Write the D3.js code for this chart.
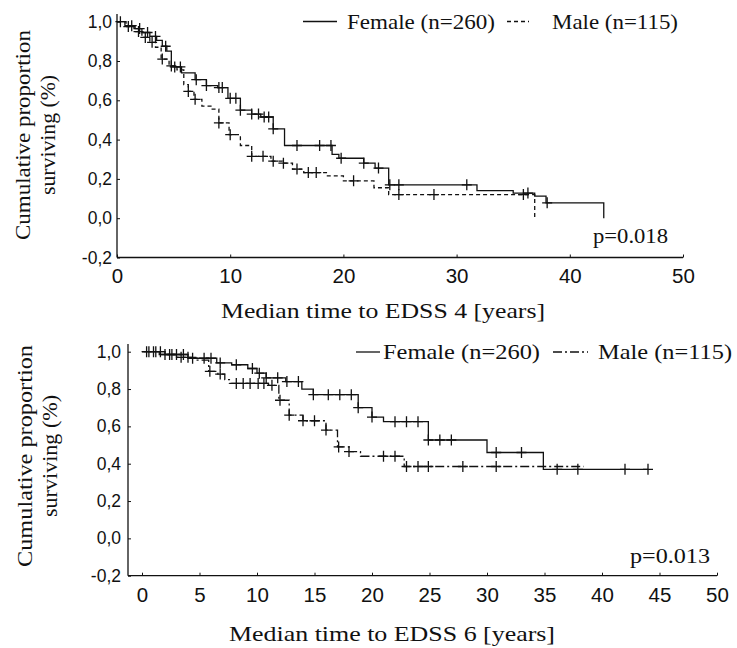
<!DOCTYPE html>
<html>
<head>
<meta charset="utf-8">
<script src="https://cdn.jsdelivr.net/npm/d3@7"></script>
<style>
  body { margin: 0; background: #fff; }
  svg { display: block; }
</style>
</head>
<body>
<div id="chart"></div>
<script>
// Kaplan-Meier steps: [time, survival] — each point is where the curve drops to that value
const topFemale = [[0,1],[0.7,0.98],[1.5,0.965],[2.2,0.945],[2.9,0.925],[3.5,0.905],[4.0,0.875],[4.4,0.85],[4.8,0.77],[5.7,0.74],[6.9,0.705],[7.9,0.675],[8.9,0.665],[9.8,0.61],[10.9,0.55],[11.9,0.53],[12.7,0.515],[13.8,0.455],[14.8,0.37],[19.0,0.325],[19.6,0.305],[21.8,0.28],[22.8,0.255],[24.0,0.17],[31.8,0.14],[35.0,0.128],[36.9,0.112],[37.9,0.078],[43.0,0]];
const topMale = [[0,1],[0.8,0.975],[1.6,0.95],[2.2,0.92],[2.9,0.895],[3.4,0.87],[3.9,0.81],[4.6,0.775],[5.3,0.755],[5.9,0.68],[6.3,0.645],[6.8,0.605],[7.5,0.57],[8.3,0.555],[9.0,0.485],[9.9,0.425],[10.9,0.37],[11.9,0.315],[13.6,0.29],[14.6,0.28],[15.5,0.25],[16.5,0.232],[18.5,0.215],[20.0,0.19],[22.7,0.155],[24.0,0.12],[36.9,0]];
const topFemaleCensor = [0.3,1.3,2.0,2.7,3.4,4.3,5.1,5.6,7.0,7.9,9.0,9.3,10.0,10.5,10.9,11.9,12.5,13.0,13.4,13.8,15.9,17.9,18.9,19.8,21.8,23.1,24.1,24.9,30.9,36.3,38.0];
const topMaleCensor = [1.0,1.9,2.5,3.1,4.0,4.8,6.3,6.9,9.0,10.0,11.9,12.9,13.8,14.7,15.9,16.9,17.6,20.9,24.9,28.0,35.9];

const botFemale = [[0,1],[2.0,0.985],[4.0,0.965],[6.5,0.94],[7.8,0.93],[9.2,0.91],[10.0,0.885],[10.8,0.86],[12.5,0.84],[13.9,0.8],[14.9,0.77],[18.8,0.7],[20.0,0.65],[21.0,0.625],[24.9,0.527],[30.0,0.46],[34.9,0.37],[44.0,0.37]];
const botMale = [[0,1],[1.5,0.985],[3.0,0.97],[4.8,0.955],[5.8,0.895],[6.6,0.88],[7.2,0.85],[7.6,0.83],[11.0,0.82],[11.9,0.74],[12.8,0.66],[14.0,0.63],[16.0,0.58],[17.0,0.49],[18.0,0.465],[19.0,0.44],[22.8,0.385],[38.4,0.385]];
const botFemaleCensor = [0.4,1.0,1.6,2.4,3.0,3.6,4.4,5.4,6.0,6.8,8.2,9.6,10.2,10.8,11.8,12.6,13.6,14.9,16.2,17.2,18.2,18.8,20.0,22.0,23.0,24.0,24.9,25.9,26.9,30.8,33.0,36.1,37.9,42.0,44.0];
const botMaleCensor = [0.6,1.2,2.0,2.6,3.4,4.0,5.9,6.8,8.2,8.8,9.4,10.1,10.6,11.3,12.0,12.8,14.0,15.0,16.0,17.1,18.0,21.0,22.0,23.0,24.0,24.9,27.9,30.8];

const yTicks = [-0.2, 0, 0.2, 0.4, 0.6, 0.8, 1.0];
const topXTicks = [0, 10, 20, 30, 40, 50];
const botXTicks = [0, 5, 10, 15, 20, 25, 30, 35, 40, 45, 50];
const legendLabels = ["Female (n=260)", "Male (n=115)"];

const svg = d3.select("#chart").append("svg")
    .attr("width", 737)
    .attr("height", 648);

const sans = "'Liberation Sans', Arial, sans-serif";
const serif = "'Liberation Serif', 'Times New Roman', serif";
const fmt = d => d3.format(".1f")(d).replace(".", ",").replace("\u2212", "-");

// survival value at time t from step list
function survAt(steps, t) {
  let s = steps[0][1];
  for (const p of steps) { if (p[0] <= t) s = p[1]; }
  return s;
}

function panel(o) {
  const x = d3.scaleLinear().domain([0, 50]).range([o.x0, o.x1]);
  const y = d3.scaleLinear().domain([-0.2, 1.0]).range([o.yb, o.yt]);
  const g = svg.append("g");

  // axis lines
  g.append("line").attr("x1", o.ax).attr("x2", o.ax).attr("y1", o.axTop).attr("y2", o.yb)
    .attr("stroke", "#111").attr("stroke-width", 1.3);
  g.append("line").attr("x1", o.ax).attr("x2", o.x1).attr("y1", o.yb).attr("y2", o.yb)
    .attr("stroke", "#111").attr("stroke-width", 1.3);

  // y ticks
  const ya = d3.axisLeft(y).tickValues(yTicks).tickSize(-3).tickPadding(o.yPad).tickFormat(fmt);
  const yg = g.append("g").attr("transform", `translate(${o.ax},0)`).call(ya);
  yg.select(".domain").remove();
  yg.selectAll("text").style("font-family", sans).style("font-size", "17.5px").attr("fill", "#111");
  yg.selectAll("line").attr("stroke", "#111");

  // x ticks
  const xa = d3.axisBottom(x).tickValues(o.xTicks).tickSize(-3).tickPadding(o.xPad).tickFormat(d3.format("d"));
  const xg = g.append("g").attr("transform", `translate(0,${o.yb})`).call(xa);
  xg.select(".domain").remove();
  xg.selectAll("text").style("font-family", sans).style("font-size", "20.5px").attr("fill", "#111");
  xg.selectAll("line").attr("stroke", "#111");

  const line = d3.line().x(d => x(d[0])).y(d => y(d[1])).curve(d3.curveStepAfter);

  const series = [
    {steps: o.female, censor: o.femaleCensor, dash: null},
    {steps: o.male, censor: o.maleCensor, dash: o.maleDash}
  ];
  series.forEach(s => {
    g.append("path").datum(s.steps).attr("d", line)
      .attr("fill", "none").attr("stroke", "#111").attr("stroke-width", 1.3)
      .attr("stroke-dasharray", s.dash);
    g.append("g").selectAll("path").data(s.censor).join("path")
      .attr("d", t => {
        const cx = x(t), cy = y(survAt(s.steps, t));
        return `M${cx - 5},${cy}H${cx + 5}M${cx},${cy - 5.5}V${cy + 5.5}`;
      })
      .attr("stroke", "#111").attr("stroke-width", 1.3);
  });

  // legend
  const lg = g.append("g").style("font-family", serif).attr("fill", "#111");
  lg.append("line").attr("x1", o.leg[0]).attr("x2", o.leg[1]).attr("y1", o.legY).attr("y2", o.legY)
    .attr("stroke", "#111").attr("stroke-width", 1.3);
  lg.append("text").attr("x", o.leg[2]).attr("y", o.legY + 7).text(legendLabels[0])
    .style("font-size", "21px").attr("textLength", o.legW[0]).attr("lengthAdjust", "spacingAndGlyphs");
  lg.append("line").attr("x1", o.leg[3]).attr("x2", o.leg[4]).attr("y1", o.legY).attr("y2", o.legY)
    .attr("stroke", "#111").attr("stroke-width", 1.3).attr("stroke-dasharray", o.maleDash);
  lg.append("text").attr("x", o.leg[5]).attr("y", o.legY + 7).text(legendLabels[1])
    .style("font-size", "21px").attr("textLength", o.legW[1]).attr("lengthAdjust", "spacingAndGlyphs");

  // p value
  g.append("text").attr("x", o.p[0]).attr("y", o.p[1]).text(o.pText)
    .style("font-family", serif).style("font-size", "20px").attr("fill", "#111")
    .attr("textLength", o.p[2]).attr("lengthAdjust", "spacingAndGlyphs");

  // axis titles
  g.append("text").attr("x", o.xt[0]).attr("y", o.xt[1]).attr("text-anchor", "middle")
    .text(o.xTitle).style("font-family", serif).style("font-size", "21px").attr("fill", "#111")
    .attr("textLength", o.xt[2]).attr("lengthAdjust", "spacingAndGlyphs");
  [["Cumulative proportion", o.yt1, o.ytW[0]], ["surviving (%)", o.yt2, o.ytW[1]]].forEach(([txt, bx, w]) => {
    g.append("text").attr("transform", `translate(${bx},${o.ytC}) rotate(-90)`)
      .attr("text-anchor", "middle").text(txt)
      .style("font-family", serif).style("font-size", "21px").attr("fill", "#111")
      .attr("textLength", w).attr("lengthAdjust", "spacingAndGlyphs");
  });
}

panel({
  x0: 117, x1: 683, ax: 117, axTop: 14, yt: 21.7, yb: 257.5, yPad: 5, xPad: 11,
  xTicks: topXTicks,
  female: topFemale, male: topMale, femaleCensor: topFemaleCensor, maleCensor: topMaleCensor,
  maleDash: "4,3",
  leg: [303, 337, 347, 507, 529, 552], legY: 21.5, legW: [148, 126],
  p: [593, 243, 75], pText: "p=0.018",
  xt: [383, 318, 324], xTitle: "Median time to EDSS 4 [years]",
  yt1: 30, yt2: 55, ytC: 135, ytW: [210, 120]
});

panel({
  x0: 142, x1: 717, ax: 128, axTop: 344, yt: 351.7, yb: 575.7, yPad: 7, xPad: 12,
  xTicks: botXTicks,
  female: botFemale, male: botMale, femaleCensor: botFemaleCensor, maleCensor: botMaleCensor,
  maleDash: "9,3,2,3",
  leg: [356, 380, 383, 553, 588, 598], legY: 352, legW: [157, 134],
  p: [630, 563, 80], pText: "p=0.013",
  xt: [392, 641, 326], xTitle: "Median time to EDSS 6 [years]",
  yt1: 32, yt2: 57, ytC: 456, ytW: [222, 122]
});
</script>
</body>
</html>
